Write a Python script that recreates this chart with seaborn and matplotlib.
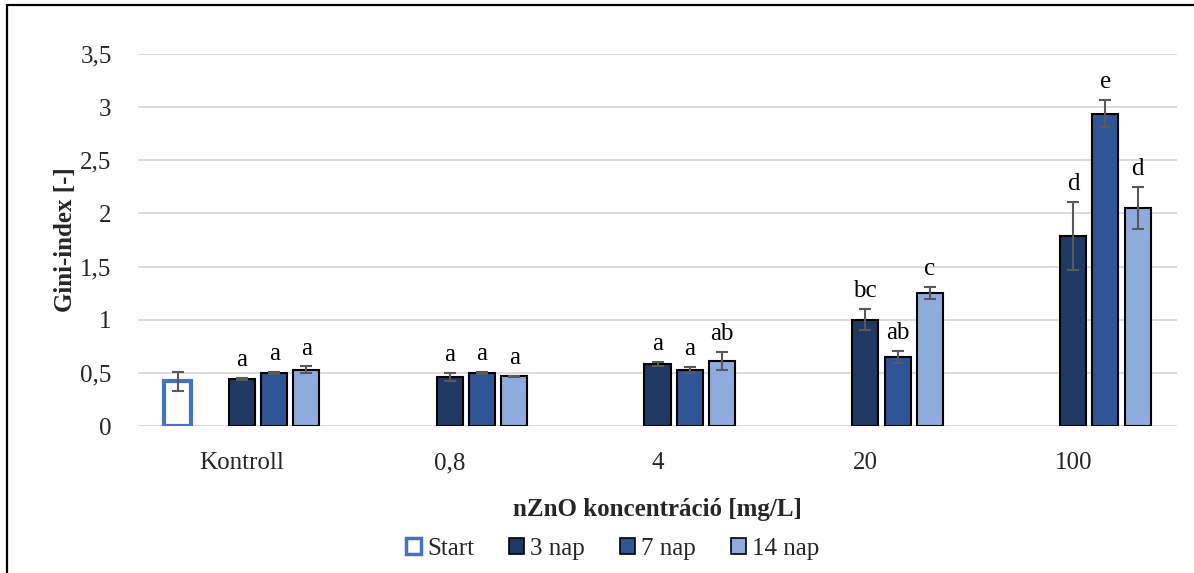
import numpy as np
import pandas as pd
import matplotlib
matplotlib.use("Agg")
import matplotlib.pyplot as plt
import seaborn as sns
from matplotlib.patches import Patch
from matplotlib.lines import Line2D

# ---- data ----
categories = ["Kontroll", "0,8", "4", "20", "100"]
series = ["Start", "3 nap", "7 nap", "14 nap"]
start_vals = [0.42]
start_err = [0.09]
nap3_vals = [0.44, 0.46, 0.58, 1.00, 1.79]
nap3_err = [0.01, 0.035, 0.02, 0.10, 0.32]
nap7_vals = [0.50, 0.50, 0.53, 0.65, 2.94]
nap7_err = [0.01, 0.01, 0.028, 0.06, 0.125]
nap14_vals = [0.53, 0.47, 0.61, 1.25, 2.05]
nap14_err = [0.03, 0.005, 0.086, 0.056, 0.195]
nap3_letters = ["a", "a", "a", "bc", "d"]
nap7_letters = ["a", "a", "a", "ab", "e"]
nap14_letters = ["a", "a", "ab", "c", "d"]

# hue order contains an empty slot (as in the original clustered layout)
hue_order = ["Start", " ", "3 nap", "7 nap", "14 nap"]
colors = {"Start": "#FFFFFF", " ": "#FFFFFF", "3 nap": "#203864",
          "7 nap": "#2F5597", "14 nap": "#8FAADC"}

rows = []
rows.append(dict(cat=categories[0], s="Start", v=start_vals[0], e=start_err[0], lab=""))
for vals, errs, labs, name in [(nap3_vals, nap3_err, nap3_letters, "3 nap"),
                               (nap7_vals, nap7_err, nap7_letters, "7 nap"),
                               (nap14_vals, nap14_err, nap14_letters, "14 nap")]:
    for c, v, e, l in zip(categories, vals, errs, labs):
        rows.append(dict(cat=c, s=name, v=v, e=e, lab=l))
df = pd.DataFrame(rows)

sns.set_theme(style="white")
plt.rcParams["font.family"] = ["Liberation Serif", "DejaVu Serif"]
FS = 18

fig = plt.figure(figsize=(11.94, 5.73), dpi=100)
ax = fig.add_axes([0.1156, 0.2565, 0.9858 - 0.1156, 0.9058 - 0.2565])

sns.barplot(data=df, x="cat", y="v", hue="s", order=categories, hue_order=hue_order,
            palette=colors, saturation=1, width=0.775, gap=0.19, errorbar=None, ax=ax,
            edgecolor="black", linewidth=1.5, legend=False)

# error bars + letters
bar_containers = [c for c in ax.containers if len(c.patches) > 0]
present = [h for h in hue_order if h in df["s"].unique()]
for cont, name in zip(bar_containers, present):
    sub = df[df["s"] == name]
    sub = sub.set_index("cat").reindex([c for c in categories if c in sub["cat"].values])
    for bar, (_, r) in zip(cont.patches, sub.iterrows()):
        xc = bar.get_x() + bar.get_width() / 2
        if name == "Start":
            bar.set_facecolor("white")
            bar.set_edgecolor("#4472C4")
            bar.set_linewidth(3)
        ax.errorbar(xc, r["v"], yerr=r["e"], fmt="none", ecolor="#595959",
                    elinewidth=1.5, capsize=4.5, capthick=1.5, zorder=5)
        if r["lab"]:
            ax.annotate(r["lab"], (xc, r["v"] + r["e"]), xytext=(0, 5),
                        textcoords="offset points", ha="center", va="bottom",
                        fontsize=FS, color="black")

ticks = np.arange(0, 3.51, 0.5)
ax.set_ylim(0, 3.5)
ax.set_yticks(ticks)
ax.set_yticklabels([("%g" % t).replace(".", ",") for t in ticks], fontsize=FS)
ax.yaxis.grid(True, color="#D9D9D9", linewidth=1.3)
ax.set_axisbelow(True)
ax.tick_params(axis="x", labelsize=FS, length=0, pad=19)
ax.tick_params(axis="y", length=0, pad=19)
for sp in ax.spines.values():
    sp.set_visible(False)
ax.set_xlim(-0.5, 4.5)
ax.set_ylabel("Gini-index [-]", fontsize=FS, fontweight="bold", labelpad=2)
ax.set_xlabel("nZnO koncentráció [mg/L]", fontsize=FS, fontweight="bold", labelpad=17)

handles = [Patch(facecolor="white", edgecolor="#4472C4", linewidth=2.5, label="Start"),
           Patch(facecolor=colors["3 nap"], edgecolor="black", linewidth=1.2, label="3 nap"),
           Patch(facecolor=colors["7 nap"], edgecolor="black", linewidth=1.2, label="7 nap"),
           Patch(facecolor=colors["14 nap"], edgecolor="black", linewidth=1.2, label="14 nap")]
fig.legend(handles=handles, loc="center", bbox_to_anchor=(0.513, 0.042), ncol=4,
           frameon=False, fontsize=FS, handlelength=0.6, handleheight=0.6,
           handletextpad=0.24, columnspacing=1.4, borderpad=0.2)

# figure border (left and top)
fig.add_artist(Line2D([0.006, 0.006], [0, 0.992], transform=fig.transFigure, color="black", linewidth=1.6))
fig.add_artist(Line2D([0.006, 1.0], [0.992, 0.992], transform=fig.transFigure, color="black", linewidth=1.6))

fig.savefig("out.png", dpi=100, facecolor="white")
